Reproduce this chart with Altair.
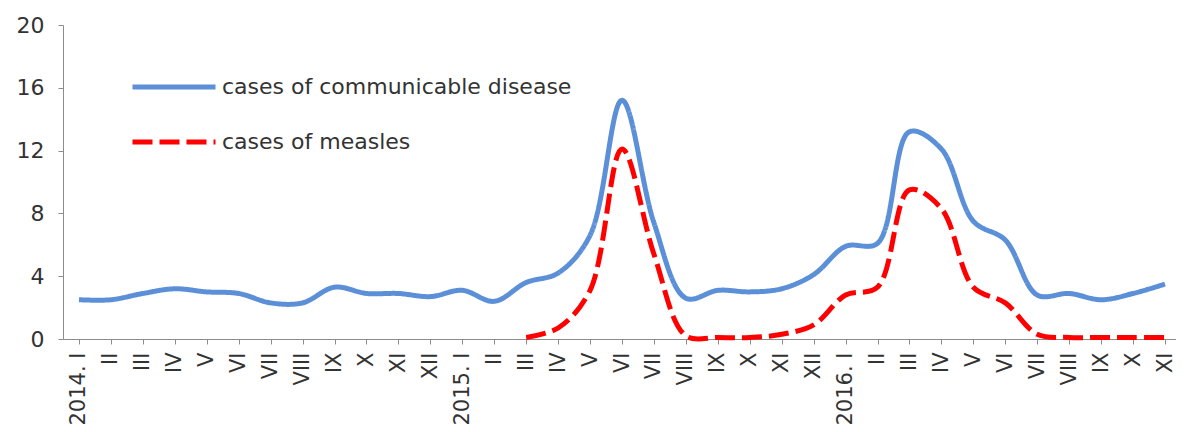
import altair as alt
import pandas as pd

months = ["I", "II", "III", "IV", "V", "VI", "VII", "VIII", "IX", "X", "XI", "XII"]
labels = (["2014. I"] + months[1:] + ["2015. I"] + months[1:] + ["2016. I"] + months[1:11])
# make labels unique for the scale while displaying the same text
keys = [f"{i:02d}|{lab}" for i, lab in enumerate(labels)]

communicable = [2.5, 2.5, 2.9, 3.2, 3.0, 2.9, 2.3, 2.3, 3.3, 2.9, 2.9, 2.7,
                3.1, 2.4, 3.6, 4.2, 6.6, 15.2, 7.4, 2.6, 3.1, 3.0, 3.2, 4.1,
                5.9, 6.1, 13.2, 12.1, 7.5, 6.3, 2.8, 2.9, 2.5, 2.9, 3.5]
measles_start = 14
measles = [0.1, 0.7, 3.1, 12.1, 5.4, 0.2, 0.1, 0.1, 0.3, 0.9,
           2.8, 3.3, 9.5, 8.3, 3.3, 2.3, 0.3, 0.1, 0.1, 0.1, 0.1]

series_names = ["cases of communicable disease", "cases of measles"]
series_colors = ["#5B8FD7", "#FF0000"]
series_dash = [[1, 0], [20, 7]]

rows = []
for k, v in zip(keys, communicable):
    rows.append({"month": k, "value": v, "series": series_names[0]})
for k, v in zip(keys[measles_start:], measles):
    rows.append({"month": k, "value": v, "series": series_names[1]})
df = pd.DataFrame(rows)

legend = alt.Legend(
    orient="none", legendX=67, legendY=18, title=None,
    symbolType="stroke", symbolSize=6889, symbolStrokeWidth=5,
    labelFontSize=22, labelFont="DejaVu Sans", labelColor="#333333",
    labelOffset=4, rowPadding=0, padding=0, labelLimit=600,
)

label_expr = "split(datum.value, '|')[1]"

chart = alt.Chart(df).mark_line(
    interpolate="catmull-rom", strokeWidth=5
).encode(
    x=alt.X("month:N", sort=keys, title=None,
            scale=alt.Scale(type="point", padding=0.5, range=[0, 1118]),
            axis=alt.Axis(labelAngle=-90, labelExpr=label_expr, labelFont="DejaVu Sans",
                          labelFontSize=21, labelColor="#333333", labelPadding=8,
                          tickSize=5, domainColor="#8c8c8c", tickColor="#8c8c8c",
                          labelOverlap=False, grid=False)),
    y=alt.Y("value:Q", title=None,
            scale=alt.Scale(domain=[0, 20], nice=False),
            axis=alt.Axis(values=[0, 4, 8, 12, 16, 20], labelFont="DejaVu Sans",
                          labelFontSize=22, labelColor="#333333", labelPadding=14,
                          tickSize=5, domainColor="#8c8c8c", tickColor="#8c8c8c",
                          grid=False, minExtent=50, maxExtent=50)),
    color=alt.Color("series:N", scale=alt.Scale(domain=series_names, range=series_colors),
                    legend=legend),
    strokeDash=alt.StrokeDash("series:N", scale=alt.Scale(domain=series_names, range=series_dash),
                              legend=legend),
).properties(
    width=1113, height=314,
    autosize=alt.AutoSizeParams(type="none"),
    padding={"left": 55, "top": 17, "right": 0, "bottom": 85},
).configure_view(stroke=None)

chart.save("out.html", embed_options={"renderer": "svg", "actions": False})
